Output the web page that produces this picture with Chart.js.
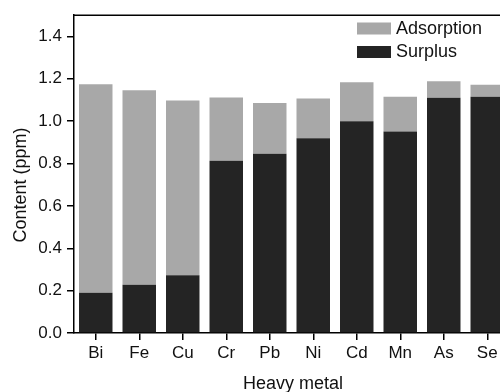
<!DOCTYPE html>
<html>
<head>
<meta charset="utf-8">
<script src="https://cdn.jsdelivr.net/npm/chart.js@4"></script>
<style>
  html, body { margin: 0; padding: 0; background: #fff; overflow: hidden; }
  #wrap { width: 512px; height: 392px; }
</style>
</head>
<body>
<div id="wrap"><canvas id="chart-metal" width="512" height="392"></canvas></div>
<script>
// datos
const metales = ['Bi', 'Fe', 'Cu', 'Cr', 'Pb', 'Ni', 'Cd', 'Mn', 'As', 'Se'];
const surplus = [0.19, 0.228, 0.272, 0.813, 0.846, 0.919, 1.0, 0.951, 1.11, 1.115];
const adsorption = [0.984, 0.918, 0.825, 0.298, 0.239, 0.188, 0.183, 0.164, 0.078, 0.057];
const yTicks = [0, 0.2, 0.4, 0.6, 0.8, 1.0, 1.2, 1.4];

const FONT = "'Liberation Sans', Arial, sans-serif";
const GRIS = '#a8a8a8';
const NEGRO = '#242424';

// marco superior, titulos de ejes y leyenda dentro del area
const extras = {
    id: 'extras',
    afterDraw(chart) {
        const { ctx, chartArea } = chart;
        ctx.save();
        ctx.strokeStyle = '#000';
        ctx.lineWidth = 1.5;
        ctx.beginPath();
        ctx.moveTo(chartArea.left - 0.75, chartArea.top);
        ctx.lineTo(chartArea.right, chartArea.top);
        ctx.stroke();

        ctx.fillStyle = '#111';
        ctx.font = '18px ' + FONT;
        ctx.textAlign = 'center';
        ctx.textBaseline = 'middle';
        ctx.fillText('Heavy metal', 293, 384);

        ctx.save();
        ctx.translate(21, 185);
        ctx.rotate(-Math.PI / 2);
        ctx.fillText('Content (ppm)', 0, 0);
        ctx.restore();

        // leyenda: Adsorption arriba, Surplus abajo
        const items = [chart.data.datasets[1], chart.data.datasets[0]];
        ctx.font = '18px ' + FONT;
        ctx.textAlign = 'left';
        items.forEach((ds, i) => {
            const y = 22.5 + i * 23.5;
            ctx.fillStyle = ds.backgroundColor;
            ctx.fillRect(357, y, 34, 12);
            ctx.fillStyle = '#111';
            ctx.fillText(ds.label, 396, y + 6.5);
        });
        ctx.restore();
    }
};

const chartMetal = new Chart(document.getElementById('chart-metal'), {
    type: 'bar',
    data: {
        labels: metales,
        datasets: [
            { label: 'Surplus', data: surplus, backgroundColor: NEGRO, barPercentage: 0.77, categoryPercentage: 1 },
            { label: 'Adsorption', data: adsorption, backgroundColor: GRIS, barPercentage: 0.77, categoryPercentage: 1 }
        ]
    },
    options: {
        responsive: false,
        animation: false,
        layout: { padding: { top: 13, right: 3, left: 0, bottom: 0 } },
        plugins: {
            legend: { display: false },
            tooltip: { enabled: false }
        },
        scales: {
            x: {
                stacked: true,
                grid: { offset: false, drawOnChartArea: false, color: '#000', lineWidth: 1.5, tickLength: 7 },
                border: { color: '#000', width: 1.5 },
                ticks: { color: '#111', font: { family: FONT, size: 17 }, padding: 3, maxRotation: 0, autoSkip: false },
                afterFit: (s) => { s.height = 59; }
            },
            y: {
                stacked: true,
                min: 0,
                max: 1.5,
                grid: { drawOnChartArea: false, color: '#000', lineWidth: 1.5, tickLength: 7 },
                border: { color: '#000', width: 1.5 },
                ticks: {
                    color: '#111',
                    font: { family: FONT, size: 17 },
                    padding: 5,
                    includeBounds: false,
                    callback: (v) => Number(v).toFixed(1)
                },
                afterBuildTicks: (s) => { s.ticks = yTicks.map(v => ({ value: v })); },
                afterFit: (s) => { s.width = 74; }
            }
        }
    },
    plugins: [extras]
});
</script>
</body>
</html>
